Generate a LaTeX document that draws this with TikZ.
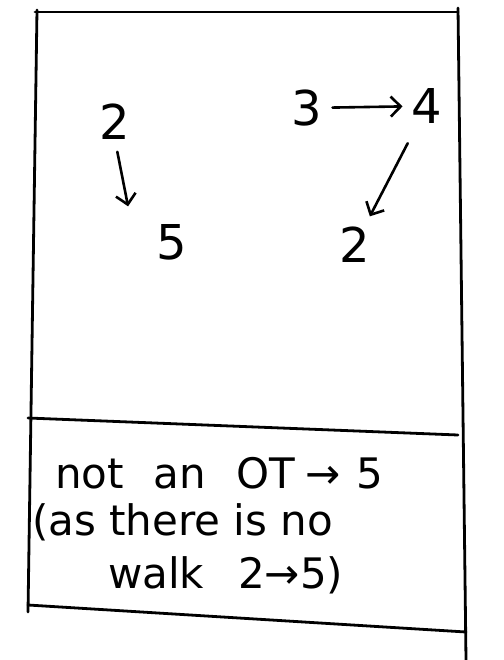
\documentclass[tikz,border=0pt]{standalone}
\usepackage{fontspec}
\setmainfont{DejaVu Sans}
\usetikzlibrary{arrows.meta}
\newcommand{\rar}{→}
\begin{document}
\begin{tikzpicture}[x=1pt,y=-1pt,
  ink/.style={line width=2.8pt,line cap=round,line join=round},
  num/.style={inner sep=0pt,font=\fontsize{48}{56}\selectfont},
  txt/.style={inner sep=0pt,anchor=base west,font=\fontsize{42}{50}\selectfont},
  arr/.style={line width=2.6pt,line cap=round,line join=round,-{Straight Barb[length=10pt,width=20pt,line width=2.6pt]}}]
\useasboundingbox (0,0) rectangle (503,660);
% frame
\draw[ink] (35,12) -- (458,12);
\draw[ink] (37,10) -- (28,612);
\draw[ink] (458,8) -- (466,660);
\draw[ink] (28,418) -- (458,435);
\draw[ink] (28,605) -- (466,632);
% graph
\node[num] (a2) at (115,122) {2};
\node[num] (a5) at (172,242) {5};
\node[num] (b3) at (307,108) {3};
\node[num] (b4) at (427,106) {4};
\node[num] (b2) at (355,245) {2};
\draw[arr,shorten <=12pt,shorten >=18pt] (a2.south) -- ([xshift=-25pt]a5.north west);
\draw[arr,shorten <=10pt,shorten >=9pt] (b3) -- (b4);
\draw[arr,shorten <=22pt,shorten >=12pt] (b4) -- (b2);
% text
\node[txt] (t1) at (55,488) {not\hspace{30pt}an\hspace{30pt}OT\hspace{10pt}\rar\hspace{16pt}5};
\node[txt] (t2) at (32,535) {(as there is no};
\node[txt] (t3) at (108,588) {walk\hspace{34pt}2\rar5)};
\end{tikzpicture}
\end{document}
